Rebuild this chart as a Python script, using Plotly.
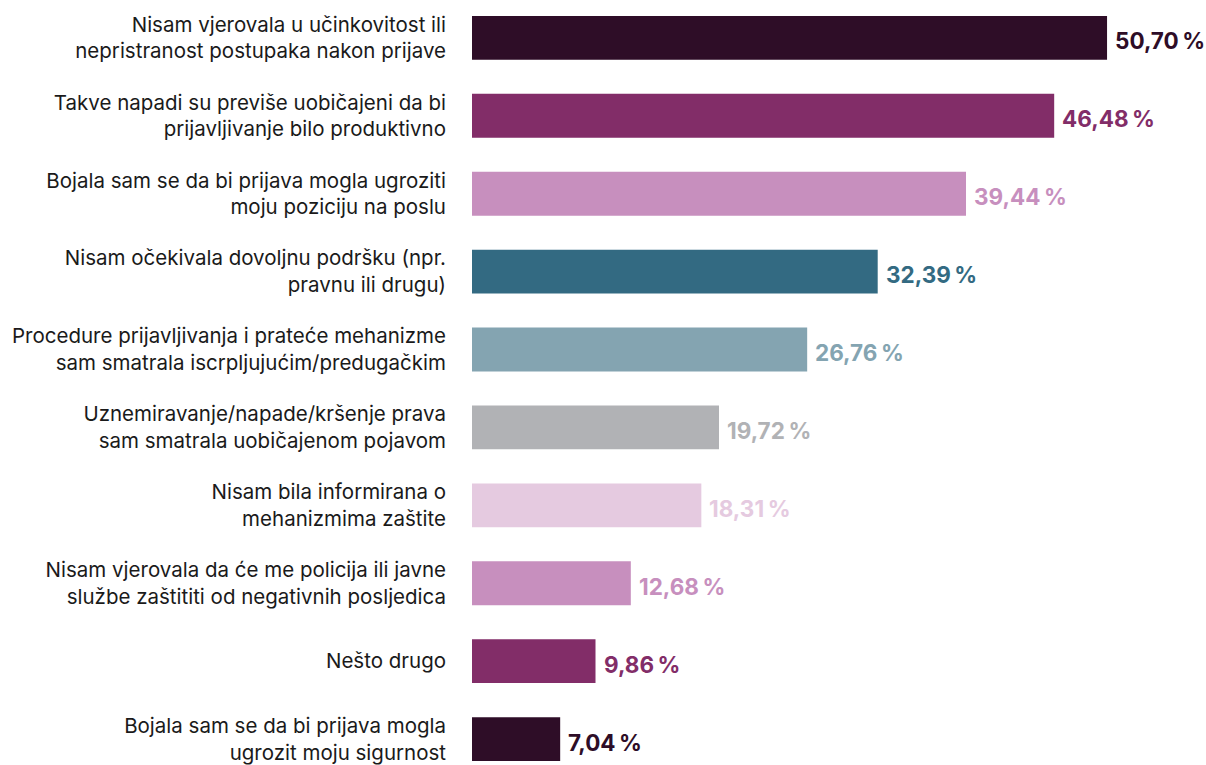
import plotly.graph_objects as go

categories = [
    "Nisam vjerovala u učinkovitost ili<br>nepristranost postupaka nakon prijave",
    "Takve napadi su previše uobičajeni da bi<br>prijavljivanje bilo produktivno",
    "Bojala sam se da bi prijava mogla ugroziti<br>moju poziciju na poslu",
    "Nisam očekivala dovoljnu podršku (npr.<br>pravnu ili drugu)",
    "Procedure prijavljivanja i prateće mehanizme<br>sam smatrala iscrpljujućim/predugačkim",
    "Uznemiravanje/napade/kršenje prava<br>sam smatrala uobičajenom pojavom",
    "Nisam bila informirana o<br>mehanizmima zaštite",
    "Nisam vjerovala da će me policija ili javne<br>službe zaštititi od negativnih posljedica",
    "Nešto drugo",
    "Bojala sam se da bi prijava mogla<br>ugrozit moju sigurnost",
]
values = [50.70, 46.48, 39.44, 32.39, 26.76, 19.72, 18.31, 12.68, 9.86, 7.04]
value_labels = ["50,70\u2009%", "46,48\u2009%", "39,44\u2009%", "32,39\u2009%", "26,76\u2009%",
                "19,72\u2009%", "18,31\u2009%", "12,68\u2009%", "9,86\u2009%", "7,04\u2009%"]
colors = ["#2E0D27", "#822D68", "#C78FBE", "#336A82", "#84A4B1",
          "#B1B2B5", "#E5CAE0", "#C78FBE", "#822D68", "#2E0D27"]

fig = go.Figure(go.Bar(
    x=values, y=categories, orientation="h",
    marker=dict(color=colors, line=dict(width=0)),
    hoverinfo="skip",
))

for v, c, lab, col in zip(values, categories, value_labels, colors):
    fig.add_annotation(x=v, y=c, text="<b>" + lab + "</b>", showarrow=False,
                       xanchor="left", yanchor="middle", xshift=6, yshift=-3,
                       font=dict(family="Inter", size=22.5, color=col))

fig.update_layout(
    width=1206, height=765,
    margin=dict(l=472, r=0, t=0, b=0),
    paper_bgcolor="white", plot_bgcolor="white",
    bargap=0.437,
    showlegend=False,
    font=dict(family="Inter", size=20.5, color="#1A1A1A"),
)
fig.update_xaxes(range=[0, 58.6], visible=False, showgrid=False, zeroline=False)
fig.update_yaxes(
    type="category",
    range=[9.294, -0.486],
    showgrid=False, zeroline=False, showline=False, ticks="",
    ticklabelstandoff=25,
    tickfont=dict(family="Inter", size=20.5, color="#1A1A1A"),
)

fig.write_html(
    "out.html",
    config={"displayModeBar": False},
    post_script="document.body.style.margin='0';document.body.style.overflow='hidden';",
)
